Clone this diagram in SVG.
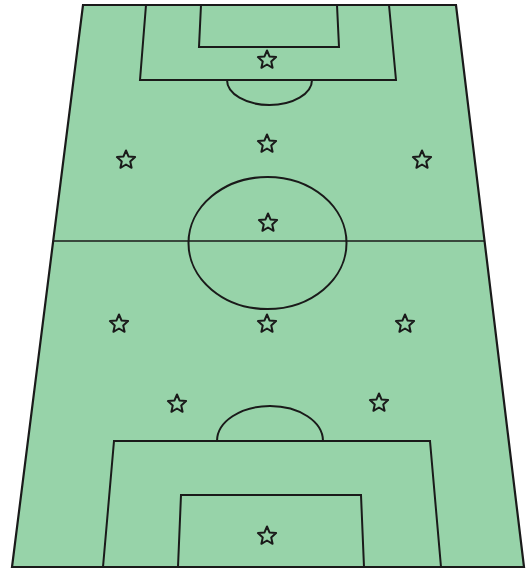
<svg xmlns="http://www.w3.org/2000/svg" width="526" height="569" viewBox="0 0 526 569">
<style>
.ln{fill:none;stroke:#1a1a1a;stroke-width:2;stroke-linejoin:miter}
.thin{fill:none;stroke:#1a1a1a;stroke-width:1.6}
.star{fill:none;stroke:#1a1a1a;stroke-width:2;stroke-linejoin:round}
</style>
<defs>
<path id="st" d="M0,-9.5 L2.6,-3.4 L9.1,-2.9 L4.2,1.4 L5.6,7.8 L0,4.5 L-5.6,7.8 L-4.2,1.4 L-9.1,-2.9 L-2.6,-3.4 Z"/>
</defs>
<rect width="526" height="569" fill="#ffffff"/>
<g id="field">
<polygon points="83,5 456,5 524,567 12,567" fill="#97d3a9" stroke="#1a1a1a" stroke-width="2.2"/>
</g>
<g id="lines">
<line class="thin" x1="54" y1="241" x2="485" y2="241"/>
<ellipse class="ln" cx="267.5" cy="243" rx="79" ry="66"/>
<polyline class="ln" points="146,5 140,80 396,80 389,5"/>
<polyline class="ln" points="201,5 199,47 339,47 337,5"/>
<path class="ln" d="M227,80 A42.5,25 0 0 0 312,80"/>
<polyline class="ln" points="103,567 114,441 430,441 441,567"/>
<polyline class="ln" points="178,567 181,495 361,495 364,567"/>
<path class="ln" d="M217,441 A53,35 0 0 1 323,441"/>
</g>
<g id="players">
<use href="#st" class="star" x="267" y="60"/>
<use href="#st" class="star" x="267" y="144"/>
<use href="#st" class="star" x="126" y="160"/>
<use href="#st" class="star" x="422" y="160"/>
<use href="#st" class="star" x="268" y="223"/>
<use href="#st" class="star" x="119" y="324"/>
<use href="#st" class="star" x="267" y="324"/>
<use href="#st" class="star" x="405" y="324"/>
<use href="#st" class="star" x="177" y="404"/>
<use href="#st" class="star" x="379" y="403"/>
<use href="#st" class="star" x="267" y="536"/>
</g>
</svg>
